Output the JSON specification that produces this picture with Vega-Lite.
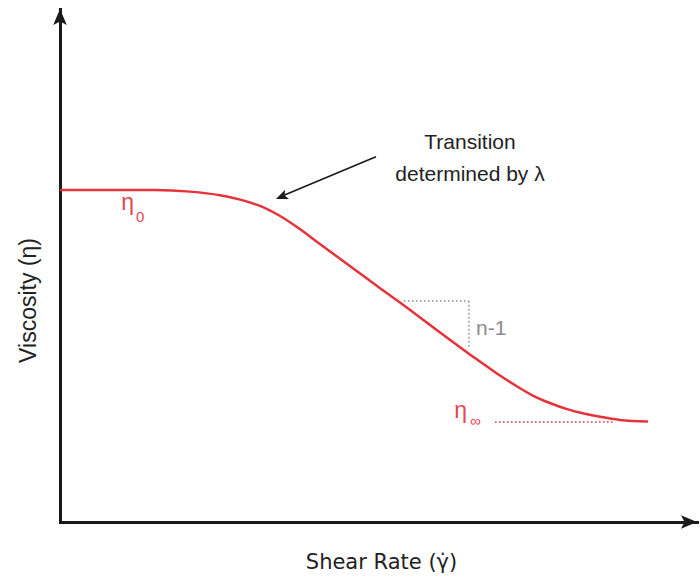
{
  "$schema": "https://vega.github.io/schema/vega-lite/v6.json",
  "width": 637,
  "height": 513,
  "padding": {"left": 60, "top": 9, "right": 3, "bottom": 59},
  "autosize": {"type": "none"},
  "background": "white",
  "config": {"view": {"stroke": null}, "font": "Liberation Sans"},
  "encoding": {
    "x": {
      "field": "x", "type": "quantitative",
      "scale": {"domain": [0, 10], "nice": false, "zero": false},
      "axis": {
        "title": "Shear Rate (γ̇)", "orient": "bottom",
        "domain": true, "domainColor": "#1a1a1a", "domainWidth": 3, "domainCap": "square",
        "ticks": false, "labels": false, "grid": false,
        "titleFont": "DejaVu Sans", "titleFontSize": 21, "titleFontWeight": "normal", "titleColor": "#222222",
        "titleBaseline": "alphabetic", "titleAlign": "center", "titleX": 321, "titleY": 46
      }
    },
    "y": {
      "field": "y", "type": "quantitative",
      "scale": {"domain": [0, 10], "nice": false, "zero": false},
      "axis": {
        "title": "Viscosity (η)", "orient": "left",
        "domain": true, "domainColor": "#1a1a1a", "domainWidth": 3, "domainCap": "square",
        "ticks": false, "labels": false, "grid": false,
        "titleFont": "Liberation Sans", "titleFontSize": 23, "titleFontWeight": "normal", "titleColor": "#222222",
        "titleBaseline": "alphabetic", "titleAlign": "center", "titleAngle": 270, "titleX": -25, "titleY": 291
      }
    }
  },
  "layer": [
    {
      "data": {"values": [
        {"x": 0, "y": 6.47}, {"x": 1.49, "y": 6.47}, {"x": 2.04, "y": 6.44}, {"x": 2.51, "y": 6.37},
        {"x": 2.9, "y": 6.26}, {"x": 3.22, "y": 6.12}, {"x": 3.45, "y": 5.97}, {"x": 3.72, "y": 5.75},
        {"x": 4.08, "y": 5.42}, {"x": 4.55, "y": 4.99}, {"x": 5.02, "y": 4.56}, {"x": 5.39, "y": 4.23},
        {"x": 5.81, "y": 3.84}, {"x": 6.2, "y": 3.48}, {"x": 6.52, "y": 3.19}, {"x": 6.83, "y": 2.92},
        {"x": 7.14, "y": 2.67}, {"x": 7.43, "y": 2.46}, {"x": 7.69, "y": 2.32}, {"x": 7.96, "y": 2.2},
        {"x": 8.24, "y": 2.11}, {"x": 8.48, "y": 2.05}, {"x": 8.79, "y": 1.99}, {"x": 9.23, "y": 1.96}
      ]},
      "mark": {"type": "line", "color": "#e6323a", "strokeWidth": 2.5, "interpolate": "monotone"}
    },
    {
      "data": {"values": [
        {"x": 5.4, "y": 4.31, "x2": 6.42, "y2": 4.31},
        {"x": 6.42, "y": 4.31, "x2": 6.42, "y2": 3.41}
      ]},
      "mark": {"type": "rule", "color": "#8c8c8c", "strokeWidth": 1.5, "strokeDash": [1.5, 2.5]},
      "encoding": {"x2": {"field": "x2"}, "y2": {"field": "y2"}}
    },
    {
      "data": {"values": [{"x": 6.83, "y": 1.95, "x2": 8.71, "y2": 1.95}]},
      "mark": {"type": "rule", "color": "#e6323a", "strokeWidth": 1.5, "strokeDash": [1.5, 2.5]},
      "encoding": {"x2": {"field": "x2"}, "y2": {"field": "y2"}}
    },
    {
      "data": {"values": [{"x": 4.96, "y": 7.12, "x2": 3.45, "y2": 6.335}]},
      "mark": {"type": "rule", "color": "#1a1a1a", "strokeWidth": 1.6},
      "encoding": {"x2": {"field": "x2"}, "y2": {"field": "y2"}}
    },
    {
      "data": {"values": [{"x": 3.391, "y": 6.296}]},
      "mark": {"type": "point", "shape": "M0,0L0.85,2L0,1.55L-0.85,2Z", "size": 144, "angle": 247,
               "filled": true, "color": "#1a1a1a", "opacity": 1, "strokeWidth": 0}
    },
    {
      "data": {"values": [{"x": 0, "y": 10}]},
      "mark": {"type": "point", "shape": "M0,0L0.85,2L0,1.55L-0.85,2Z", "size": 256, "angle": 0,
               "filled": true, "color": "#1a1a1a", "opacity": 1, "strokeWidth": 0}
    },
    {
      "data": {"values": [{"x": 10, "y": 0}]},
      "mark": {"type": "point", "shape": "M0,0L0.85,2L0,1.55L-0.85,2Z", "size": 256, "angle": 90,
               "filled": true, "color": "#1a1a1a", "opacity": 1, "strokeWidth": 0}
    },
    {
      "data": {"values": [
        {"x": 6.436, "y": 7.271, "label": "Transition"},
        {"x": 6.436, "y": 6.647, "label": "determined by λ"}
      ]},
      "mark": {"type": "text", "align": "center", "baseline": "alphabetic", "fontSize": 21, "color": "#222222"},
      "encoding": {"text": {"field": "label"}}
    },
    {
      "data": {"values": [{"x": 6.53, "y": 3.645, "label": "n-1"}]},
      "mark": {"type": "text", "align": "left", "baseline": "alphabetic", "fontSize": 21, "color": "#8c8c8c"},
      "encoding": {"text": {"field": "label"}}
    },
    {
      "data": {"values": [
        {"x": 0.96, "y": 6.08, "label": "η"},
        {"x": 6.19, "y": 2.027, "label": "η"}
      ]},
      "mark": {"type": "text", "align": "left", "baseline": "alphabetic", "fontSize": 23, "color": "#e8454f"},
      "encoding": {"text": {"field": "label"}}
    },
    {
      "data": {"values": [
        {"x": 1.193, "y": 5.85, "label": "0"},
        {"x": 6.436, "y": 1.871, "label": "∞"}
      ]},
      "mark": {"type": "text", "align": "left", "baseline": "alphabetic", "fontSize": 15, "color": "#e8454f"},
      "encoding": {"text": {"field": "label"}}
    }
  ]
}
